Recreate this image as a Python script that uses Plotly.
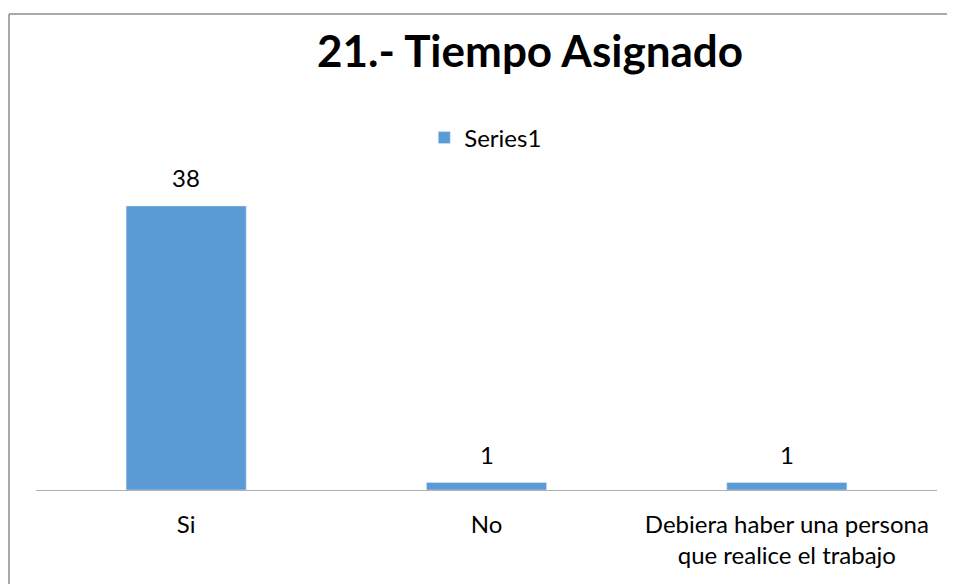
import plotly.graph_objects as go

categories = ['Si', 'No', 'Debiera haber una persona<br>que realice el trabajo']
values = [38, 1, 1]
series_name = 'Series1'

# the page has an 8px body margin, so work in page pixels and shift
OFF = 8
W, H = 955 - OFF, 584 - OFF
L, R, T, B = 36 - OFF, 955 - 937.5, 191 - OFF, 584 - 490
pw = W - L - R
ph = H - T - B


def px_x(x):
    return (x - OFF - L) / pw


def px_y(y):
    return (H - B - (y - OFF)) / ph


font = 'Lato, Open Sans, sans-serif'

fig = go.Figure(go.Bar(
    x=categories,
    y=values,
    name=series_name,
    marker_color='#5B9BD5',
    width=0.4,
    showlegend=True,
))

for c, v in zip(categories, values):
    fig.add_annotation(
        x=c, y=v, text=str(v), showarrow=False,
        yanchor='bottom', yshift=12,
        font=dict(size=24, color='#000000', family=font),
    )

fig.update_layout(
    width=W, height=H,
    margin=dict(l=L, r=R, t=T, b=B),
    paper_bgcolor='white',
    plot_bgcolor='white',
    font=dict(family=font, size=24, color='#000000'),
    title=dict(
        text='<b>21.- Tiempo Asignado</b>',
        font=dict(size=44, family=font, color='#000000'),
        x=(530 - OFF) / W, xanchor='center',
        y=1 - (52 - OFF) / H, yanchor='middle',
    ),
    legend=dict(
        orientation='h',
        x=px_x(486), xanchor='center',
        y=px_y(138), yanchor='middle',
        font=dict(size=24),
        itemwidth=30,
    ),
    xaxis=dict(
        showline=True, linecolor='#B0B0B0', linewidth=1,
        showgrid=False, ticks='', ticklabelstandoff=13,
        tickfont=dict(size=24),
    ),
    yaxis=dict(
        range=[0, 40], visible=False, showgrid=False,
    ),
    # chart-area frame: only the left and top edges are in view
    shapes=[
        dict(type='line', xref='paper', yref='paper',
             x0=px_x(9), x1=px_x(9), y0=px_y(14), y1=px_y(584),
             line=dict(color='#8C8C8C', width=1.5)),
        dict(type='line', xref='paper', yref='paper',
             x0=px_x(9), x1=px_x(955), y0=px_y(14), y1=px_y(14),
             line=dict(color='#8C8C8C', width=1.5)),
    ],
)

fig.write_html('out.html')
